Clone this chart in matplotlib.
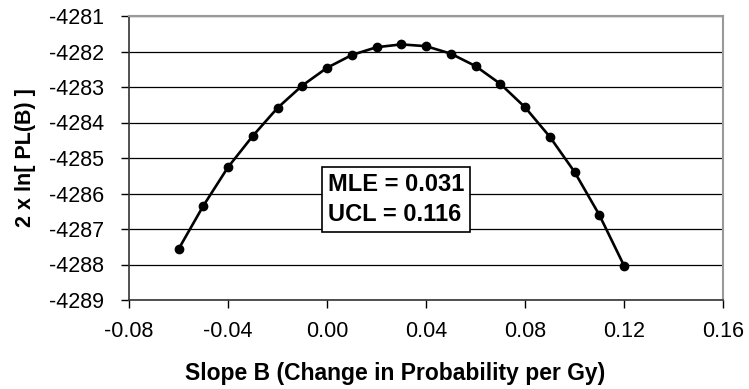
import matplotlib
matplotlib.use("Agg")
import matplotlib.pyplot as plt

# data
slope = [-0.06, -0.05, -0.04, -0.03, -0.02, -0.01, 0.00, 0.01, 0.02, 0.03,
         0.04, 0.05, 0.06, 0.07, 0.08, 0.09, 0.10, 0.11, 0.12]
loglik = [-4287.57, -4286.35, -4285.26, -4284.38, -4283.59, -4282.96, -4282.46,
          -4282.10, -4281.88, -4281.80, -4281.85, -4282.06, -4282.41, -4282.91,
          -4283.57, -4284.40, -4285.39, -4286.60, -4288.03]
x_ticks = [-0.08, -0.04, 0.00, 0.04, 0.08, 0.12, 0.16]
y_ticks = list(range(-4289, -4280))
mle = 0.031
ucl = 0.116

plt.rcParams["font.family"] = ["Liberation Sans", "DejaVu Sans"]

fig = plt.figure(figsize=(7.49, 3.89), dpi=100)
ax = fig.add_axes([129 / 749, 89 / 389, 594 / 749, 284 / 389])

ax.plot(slope, loglik, color="black", linewidth=1.9, marker="o",
        markersize=6, zorder=3)

ax.set_xlim(-0.08, 0.16)
ax.set_ylim(-4289, -4281)
ax.set_xticks(x_ticks)
ax.set_xticklabels([f"{v:.2f}" for v in x_ticks])
ax.set_yticks(y_ticks)
ax.set_yticklabels([str(v) for v in y_ticks])
ax.tick_params(axis="both", direction="out", length=6, width=1,
               labelsize=15.5, color="black")
ax.tick_params(axis="x", pad=9)
ax.tick_params(axis="y", pad=12)

for y in y_ticks:
    ax.axhline(y, color="black", linewidth=0.9, zorder=1)

ax.spines["top"].set_color("#999999")
ax.spines["right"].set_color("#999999")
ax.spines["top"].set_linewidth(1.5)
ax.spines["right"].set_linewidth(1.5)
ax.spines["left"].set_color("#333333")
ax.spines["bottom"].set_color("#333333")
ax.spines["left"].set_linewidth(1.2)
ax.spines["bottom"].set_linewidth(1.2)

ax.set_xlabel("Slope B (Change in Probability per Gy)", fontsize=16.5,
              fontweight="bold")
ax.set_ylabel("2 x ln[ PL(B) ]", fontsize=15.5, fontweight="bold")
ax.xaxis.set_label_coords((395 - 129) / 594, (300 - 362) / 284)
ax.yaxis.set_label_coords((36 - 129) / 594, 0.5)

ax.text(0.335, 0.355, f"MLE = {mle:.3f}\nUCL = {ucl:.3f}", transform=ax.transAxes,
        fontsize=17, fontweight="bold", va="center", ha="left", linespacing=1.4,
        bbox=dict(boxstyle="square,pad=0.25", facecolor="white",
                  edgecolor="black", linewidth=1.2), zorder=4)

fig.savefig("out.png", dpi=100)
